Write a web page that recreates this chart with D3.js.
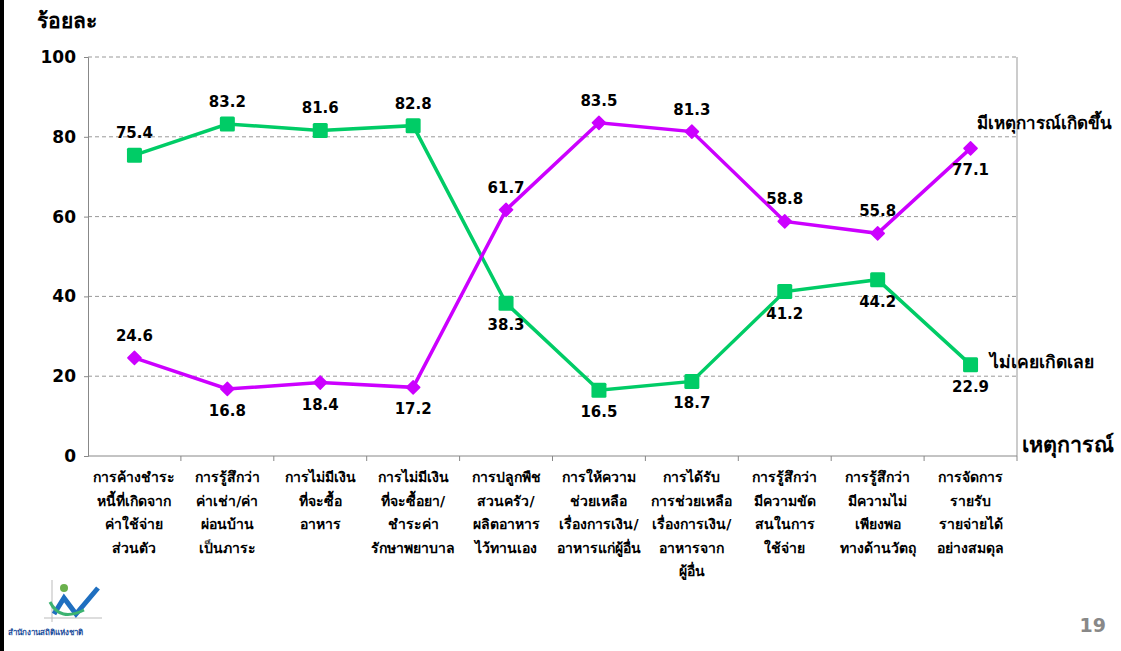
<!DOCTYPE html>
<html>
<head>
<meta charset="utf-8">
<script src="https://cdn.jsdelivr.net/npm/d3@7"></script>
<style>
  body { margin: 0; background: #fff; }
  svg { display: block; }
  text { font-family: Tahoma, "DejaVu Sans", "Noto Sans", sans-serif; font-weight: bold; fill: #000; }
</style>
</head>
<body>
<svg id="chart"></svg>
<script>
// Chart data
const categories = [
  ["การค้างชำระ", "หนี้ที่เกิดจาก", "ค่าใช้จ่าย", "ส่วนตัว"],
  ["การรู้สึกว่า", "ค่าเช่า/ค่า", "ผ่อนบ้าน", "เป็นภาระ"],
  ["การไม่มีเงิน", "ที่จะซื้อ", "อาหาร"],
  ["การไม่มีเงิน", "ที่จะซื้อยา/", "ชำระค่า", "รักษาพยาบาล"],
  ["การปลูกพืช", "สวนครัว/", "ผลิตอาหาร", "ไว้ทานเอง"],
  ["การให้ความ", "ช่วยเหลือ", "เรื่องการเงิน/", "อาหารแก่ผู้อื่น"],
  ["การได้รับ", "การช่วยเหลือ", "เรื่องการเงิน/", "อาหารจาก", "ผู้อื่น"],
  ["การรู้สึกว่า", "มีความขัด", "สนในการ", "ใช้จ่าย"],
  ["การรู้สึกว่า", "มีความไม่", "เพียงพอ", "ทางด้านวัตถุ"],
  ["การจัดการ", "รายรับ", "รายจ่ายได้", "อย่างสมดุล"]
];
const neverValues = [75.4, 83.2, 81.6, 82.8, 38.3, 16.5, 18.7, 41.2, 44.2, 22.9];
const happenedValues = [24.6, 16.8, 18.4, 17.2, 61.7, 83.5, 81.3, 58.8, 55.8, 77.1];
const neverLabelPos = ["up", "up", "up", "up", "down", "down", "down", "down", "down", "down"];
const happenedLabelPos = ["up", "down", "down", "down", "up", "up", "up", "up", "up", "down"];
const yTicks = [0, 20, 40, 60, 80, 100];

const width = 1121, height = 651;
const svg = d3.select("#chart").attr("width", width).attr("height", height);

// slide left border
svg.append("rect").attr("x", 0).attr("y", 0).attr("width", 4).attr("height", height).attr("fill", "#000");

const plot = { left: 88, right: 1017, top: 57, bottom: 456 };

const x = d3.scaleBand().domain(d3.range(categories.length)).range([plot.left, plot.right]);
const y = d3.scaleLinear().domain([0, 100]).range([plot.bottom, plot.top]);

// dashed gridlines
svg.append("g")
  .selectAll("line")
  .data(yTicks.filter(d => d > 0))
  .enter()
  .append("line")
  .attr("x1", plot.left).attr("x2", plot.right)
  .attr("y1", d => y(d)).attr("y2", d => y(d))
  .attr("stroke", "#999").attr("stroke-width", 1).attr("stroke-dasharray", "4,3");

// y axis
const yAxis = svg.append("g")
  .attr("transform", `translate(${plot.left},0)`)
  .call(d3.axisLeft(y).tickValues(yTicks).tickSize(4).tickPadding(8));
yAxis.select(".domain").attr("stroke", "#888");
yAxis.selectAll(".tick line").attr("stroke", "#888");
yAxis.selectAll(".tick text")
  .style("font-family", "Tahoma, 'DejaVu Sans', sans-serif")
  .style("font-weight", "bold").style("font-size", "17px").attr("fill", "#000");

// right border
svg.append("line")
  .attr("x1", plot.right).attr("x2", plot.right).attr("y1", plot.top).attr("y2", plot.bottom)
  .attr("stroke", "#999").attr("stroke-width", 1);

// x axis with ticks on category boundaries
svg.append("line")
  .attr("x1", plot.left).attr("x2", plot.right).attr("y1", plot.bottom).attr("y2", plot.bottom)
  .attr("stroke", "#888");
svg.append("g")
  .selectAll("line")
  .data(d3.range(1, categories.length + 1))
  .enter()
  .append("line")
  .attr("x1", d => plot.left + d * x.bandwidth()).attr("x2", d => plot.left + d * x.bandwidth())
  .attr("y1", plot.bottom).attr("y2", plot.bottom + 5)
  .attr("stroke", "#888");

// category labels
const catG = svg.append("g")
  .selectAll("text")
  .data(categories)
  .enter()
  .append("text")
  .attr("text-anchor", "middle")
  .attr("font-size", "14px")
  .attr("x", (d, i) => x(i) + x.bandwidth() / 2)
  .attr("y", 482);
catG.selectAll("tspan")
  .data(d => d)
  .enter()
  .append("tspan")
  .attr("x", function() { return this.parentNode.getAttribute("x"); })
  .attr("dy", (d, i) => i === 0 ? 0 : 23.5)
  .text(d => d);

const cx = i => x(i) + x.bandwidth() / 2;
const line = d3.line().x((d, i) => cx(i)).y(d => y(d));

const green = "#00cc66", magenta = "#cc00ff";

svg.append("path").datum(neverValues)
  .attr("d", line).attr("fill", "none").attr("stroke", green).attr("stroke-width", 3.5);
svg.append("path").datum(happenedValues)
  .attr("d", line).attr("fill", "none").attr("stroke", magenta).attr("stroke-width", 3.5);

svg.selectAll("rect.never")
  .data(neverValues)
  .enter()
  .append("rect")
  .attr("class", "never")
  .attr("x", (d, i) => cx(i) - 7.5).attr("y", d => y(d) - 7.5)
  .attr("width", 15).attr("height", 15).attr("rx", 1.5)
  .attr("fill", green);

svg.selectAll("path.happened")
  .data(happenedValues)
  .enter()
  .append("path")
  .attr("class", "happened")
  .attr("d", d3.symbol().type(d3.symbolDiamond2).size(110))
  .attr("transform", (d, i) => `translate(${cx(i)},${y(d)})`)
  .attr("fill", magenta)
  .attr("stroke", magenta).attr("stroke-width", 1.5).attr("stroke-linejoin", "round");

// value labels
function valueLabels(values, pos, cls) {
  svg.selectAll("text." + cls)
    .data(values)
    .enter()
    .append("text")
    .attr("class", cls)
    .attr("text-anchor", "middle")
    .attr("font-size", "15px")
    .attr("x", (d, i) => cx(i))
    .attr("y", (d, i) => pos[i] === "up" ? y(d) - 17 : y(d) + 27)
    .style("font-family", "Tahoma, 'DejaVu Sans', sans-serif")
    .text(d => d.toFixed(1));
}
valueLabels(neverValues, neverLabelPos, "lblNever");
valueLabels(happenedValues, happenedLabelPos, "lblHappened");

// series names
svg.append("text").attr("x", 977).attr("y", 129).attr("font-size", "17px").text("มีเหตุการณ์เกิดขึ้น");
svg.append("text").attr("x", 990).attr("y", 368).attr("font-size", "17.5px").text("ไม่เคยเกิดเลย");

// axis titles
svg.append("text").attr("x", 37).attr("y", 28).attr("font-size", "21px").text("ร้อยละ");
svg.append("text").attr("x", 1022).attr("y", 452).attr("font-size", "21.5px").text("เหตุการณ์");

// page number
svg.append("text").attr("x", 1106).attr("y", 632).attr("text-anchor", "end")
  .attr("font-size", "19px").style("fill", "#888")
  .style("font-family", "Tahoma, 'DejaVu Sans', sans-serif")
  .text("19");

// logo (simplified)
const logo = svg.append("g").attr("transform", "translate(40,580)");
logo.append("line").attr("x1", 12).attr("x2", 12).attr("y1", 0).attr("y2", 42).attr("stroke", "#bbb");
logo.append("line").attr("x1", 4).attr("x2", 62).attr("y1", 38).attr("y2", 38).attr("stroke", "#bbb");
logo.append("path").attr("d", "M14,34 L24,18 L36,34 L58,8")
  .attr("fill", "none").attr("stroke", "#1f6fc0").attr("stroke-width", 5);
logo.append("path").attr("d", "M10,22 Q20,42 44,30")
  .attr("fill", "none").attr("stroke", "#3cb371").attr("stroke-width", 3);
logo.append("circle").attr("cx", 24).attr("cy", 8).attr("r", 4).attr("fill", "#6ab04c");
logo.append("text").attr("x", -32).attr("y", 55).attr("font-size", "8px")
  .style("fill", "#1f4f9c").text("สำนักงานสถิติแห่งชาติ");
</script>
</body>
</html>
